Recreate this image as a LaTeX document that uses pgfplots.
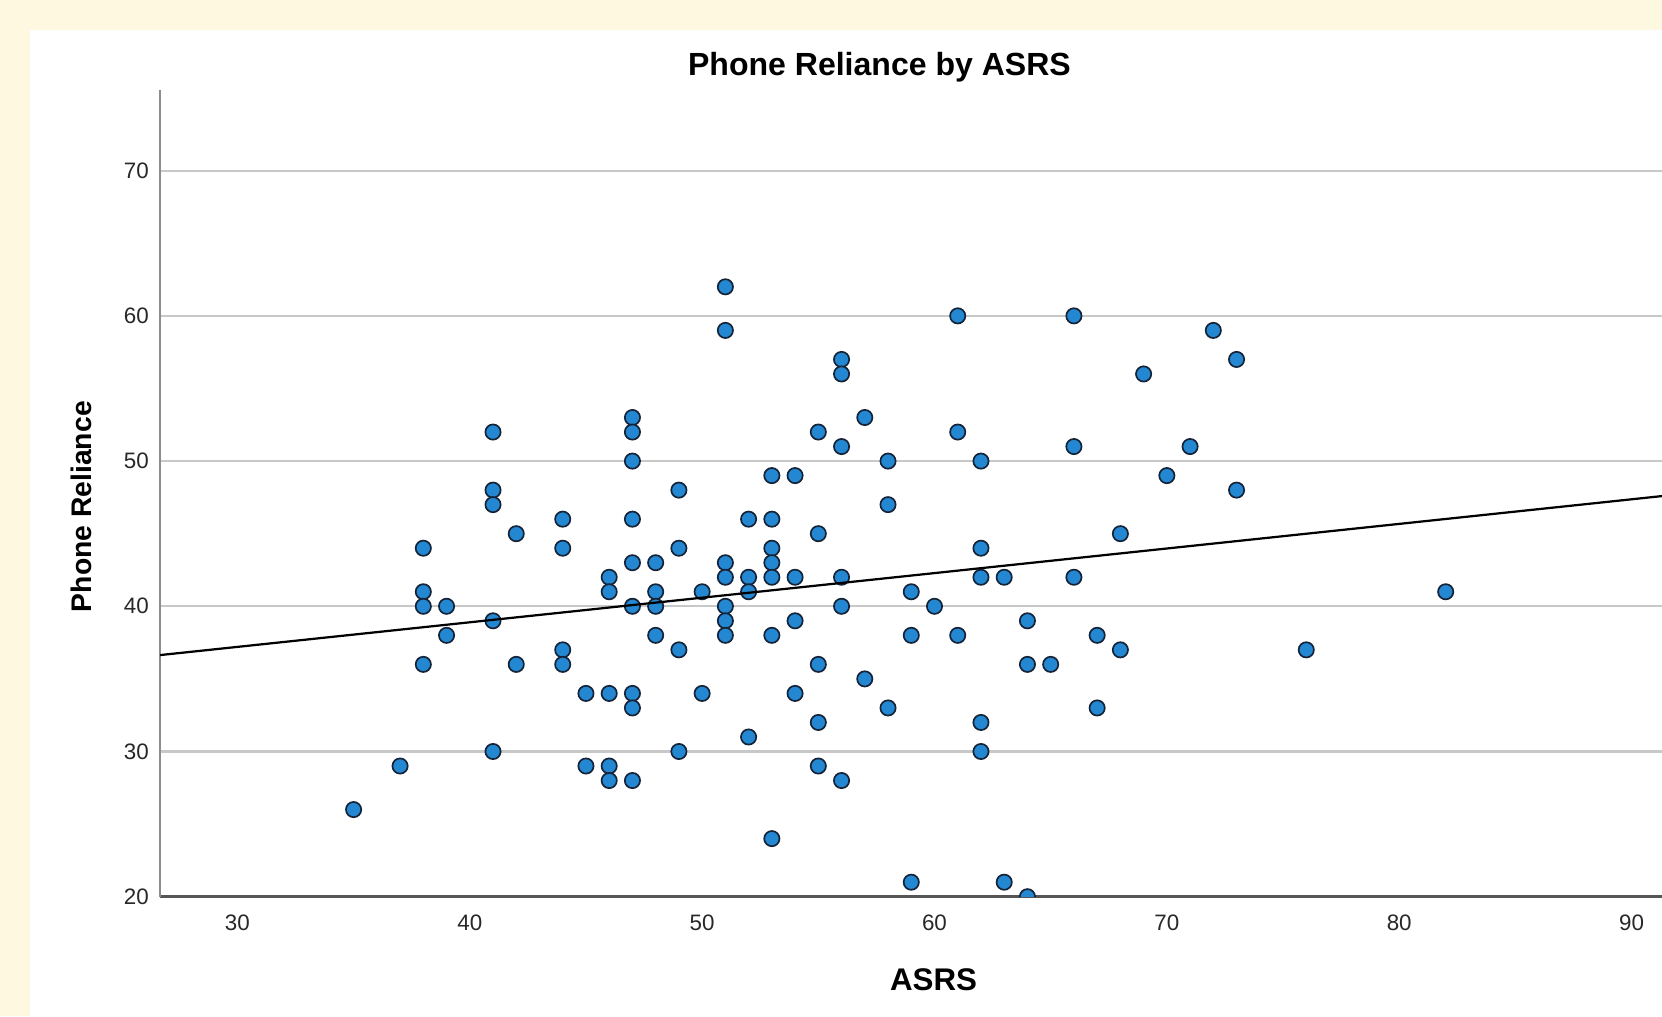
\documentclass[border=0pt]{standalone}
\usepackage{fontspec}
\setmainfont{Liberation Sans}
\usepackage{pgfplots}
\pgfplotsset{compat=1.18}
\definecolor{cream}{RGB}{255,248,225}
\definecolor{gridgray}{RGB}{200,200,200}
\definecolor{axisgray}{RGB}{140,140,140}
\definecolor{axisdark}{RGB}{85,85,85}
\definecolor{dotfill}{RGB}{36,135,210}
\definecolor{dotedge}{RGB}{20,35,55}
\definecolor{ticktext}{RGB}{40,40,40}
\begin{document}
\begin{tikzpicture}
\useasboundingbox (-15.1mm,-11.3mm) rectangle (141.7mm,84.6mm);
\fill[cream] (-15.1mm,-11.3mm) rectangle (141.7mm,84.6mm);
\fill[white] (-12.3mm,-11.3mm) rectangle (141.7mm,81.8mm);
\begin{axis}[
  at={(0,0)}, anchor=south west,
  scale only axis, width=141.7mm, height=76.1mm,
  xmin=26.67, xmax=91.31, ymin=20, ymax=75.55,
  axis x line*=bottom, axis y line*=left,
  axis line style={-},
  every outer x axis line/.append style={-, draw=axisdark, line width=0.65pt},
  every outer y axis line/.append style={-, draw=axisgray, line width=0.55pt},
  xtick={30,40,...,90}, ytick={20,30,...,70},
  major tick length=0pt,
  ymajorgrids, grid style={gridgray, line width=0.55pt},
  /pgf/number format/assume math mode=true,
  ticklabel style={font=\fontsize{6}{7}\selectfont, text=ticktext},
  yticklabel style={inner sep=0pt, xshift=-1.0mm},
  xticklabel style={inner sep=0pt, yshift=-1.6mm},
  title={Phone Reliance by ASRS},
  title style={at={(0.479,1.028)}, anchor=center, yshift=-6pt, font=\fontsize{8.6}{10}\selectfont\bfseries},
  xlabel={ASRS},
  xlabel style={at={(0.515,-0.1025)}, anchor=center, font=\fontsize{8.4}{10}\selectfont\bfseries},
  ylabel={Phone Reliance},
  ylabel style={at={(-0.0522,0.4836)}, anchor=center, rotate=0, font=\fontsize{7.6}{9}\selectfont\bfseries},
  clip marker paths=true,
]
\addplot[only marks, mark=*, mark size=0.72mm,
  mark options={fill=dotfill, draw=dotedge, line width=0.45pt}] coordinates {
(35,26) (37,29)
(38,44) (38,41) (38,40) (38,36)
(39,40) (39,38)
(41,52) (41,48) (41,47) (41,39) (41,30)
(42,45) (42,36)
(44,46) (44,44) (44,37) (44,36)
(45,34) (45,29)
(46,42) (46,41) (46,34) (46,29) (46,28)
(47,53) (47,52) (47,50) (47,46) (47,43) (47,40) (47,34) (47,33) (47,28)
(48,43) (48,41) (48,40) (48,38)
(49,48) (49,44) (49,37) (49,30)
(50,41) (50,34)
(51,62) (51,59) (51,43) (51,42) (51,40) (51,39) (51,38)
(52,46) (52,42) (52,41) (52,31)
(53,49) (53,46) (53,44) (53,43) (53,42) (53,38) (53,24)
(54,49) (54,42) (54,39) (54,34)
(55,52) (55,45) (55,36) (55,32) (55,29)
(56,57) (56,56) (56,51) (56,42) (56,40) (56,28)
(57,53) (57,35)
(58,50) (58,47) (58,33)
(59,41) (59,38) (59,21)
(60,40)
(61,60) (61,52) (61,38)
(62,50) (62,44) (62,42) (62,32) (62,30)
(63,42) (63,21)
(64,39) (64,36) (64,20)
(65,36)
(66,60) (66,51) (66,42)
(67,38) (67,33)
(68,45) (68,37)
(69,56) (70,49) (71,51) (72,59)
(73,57) (73,48)
(76,37) (82,41)
};
\addplot[black, line width=0.6pt] coordinates {(26.67,36.64) (91.31,47.59)};
\end{axis}
\end{tikzpicture}
\end{document}
